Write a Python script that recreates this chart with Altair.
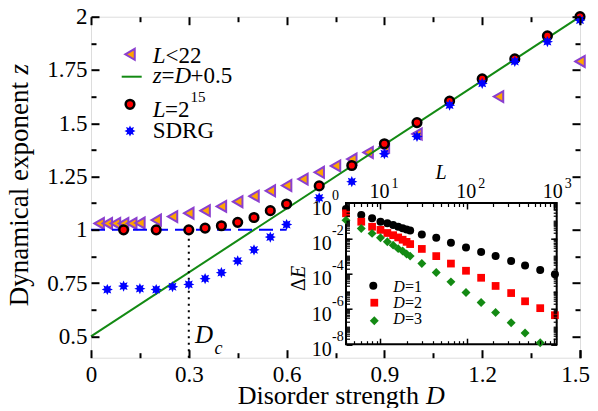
import math
import altair as alt
import pandas as pd

# ---------------- main panel data ----------------
tri_D = [0.025, 0.05, 0.075, 0.1, 0.125, 0.15, 0.2, 0.25, 0.3, 0.35, 0.4, 0.45, 0.5,
         0.55, 0.6, 0.65, 0.7, 0.75, 0.8, 0.85, 0.9, 1.0, 1.25, 1.5]
tri_z = [1.03, 1.03, 1.03, 1.03, 1.03, 1.032, 1.046, 1.062, 1.078, 1.09, 1.11, 1.132, 1.158,
         1.183, 1.208, 1.238, 1.27, 1.3, 1.332, 1.363, 1.39, 1.45, 1.625, 1.79]

circ_D = [0.1, 0.2, 0.3, 0.35, 0.4, 0.45, 0.5, 0.55, 0.6, 0.7, 0.8, 0.9, 1.0, 1.1, 1.2, 1.3, 1.4, 1.5]
circ_z = [1.0, 1.0, 1.0, 1.008, 1.019, 1.035, 1.058, 1.09, 1.121, 1.206, 1.302, 1.404, 1.503,
          1.604, 1.708, 1.802, 1.91, 2.0]

star_D = [0.05, 0.1, 0.15, 0.2, 0.25, 0.3, 0.35, 0.4, 0.45, 0.5, 0.55, 0.6, 0.7, 0.8, 0.9,
          1.0, 1.1, 1.2, 1.3, 1.4, 1.5]
star_z = [0.72, 0.736, 0.724, 0.72, 0.733, 0.744, 0.771, 0.799, 0.854, 0.906, 0.966, 1.025,
          1.15, 1.226, 1.357, 1.438, 1.585, 1.687, 1.79, 1.883, 1.984]

line_D = [0.0, 1.5]          # z = D + 0.5
line_z = [0.5, 2.0]
dash_D = [0.0, 0.6]          # z = 1 reference
dash_z = [1.0]
Dc_val = [0.3]
Dc_z = [0.4, 1.0]

x_dom = [0.0, 1.5]
y_dom = [0.4, 2.0]
x_major = [0, 0.3, 0.6, 0.9, 1.2, 1.5]
x_last = [1.5]
x_minor = [0.15, 0.45, 0.75, 1.05, 1.35]
y_major = [0.5, 0.75, 1, 1.25, 1.5, 1.75, 2]
y_minor = [0.625, 0.875, 1.125, 1.375, 1.625, 1.875]

# ---------------- inset data ----------------
L_vals = [4, 6, 8, 10, 12, 14, 16, 18, 20, 22, 30, 44, 65, 97, 145, 213, 322, 466, 697, 1030]
E_D1 = [4.6e-1, 2.1e-1, 1.35e-1, 8.7e-2, 7.1e-2, 5.6e-2, 4.5e-2, 3.7e-2, 3.2e-2, 2.75e-2,
        1.66e-2, 1.07e-2, 5.6e-3, 3.0e-3, 1.7e-3, 9.8e-4, 5.2e-4, 2.9e-4, 1.6e-4, 9.3e-5]
E_D2 = [2.6e-1, 8.7e-2, 4.5e-2, 3.0e-2, 2.0e-2, 1.5e-2, 1.12e-2, 8.3e-3, 6.3e-3, 4.7e-3,
        2.5e-3, 9.8e-4, 3.7e-4, 1.45e-4, 5.8e-5, 2.0e-5, 7.9e-6, 2.7e-6, 1.1e-6, 4.4e-7]
E_D3 = [1.07e-1, 3.6e-2, 1.9e-2, 1.07e-2, 6.3e-3, 4.1e-3, 2.6e-3, 1.9e-3, 1.3e-3, 9.8e-4,
        3.7e-4, 1.15e-4, 3.4e-5, 8.5e-6, 2.3e-6, 6.2e-7, 1.66e-7, 4.3e-8, 1.2e-8]

inset_L_dom = [4, 1080]
inset_E_dom = [1e-8, 1]
inset_x_major = [10, 100, 1000]
inset_x_minor = [4, 5, 6, 7, 8, 9, 20, 30, 40, 50, 60, 70, 80, 90,
                 200, 300, 400, 500, 600, 700, 800, 900]
inset_x_exp = ["1", "2", "3"]
inset_y_major = [1, 1e-2, 1e-4, 1e-6, 1e-8]
inset_y_exp = ["0", "-2", "-4", "-6", "-8"]
inset_y_minor = [m * 10.0 ** k for k in range(-8, 0) for m in range(2, 10)] + [1e-1, 1e-3, 1e-5, 1e-7]

# ---------------- layout / style ----------------
SERIF = "'Liberation Serif', 'Times New Roman', Times, serif"
OX, OY = 91, 16.7            # page position of plot origin
W, H = 489, 341
ORANGE = "#ffa500"
PURPLE = "#8b3fcf"
GREEN = "#138a13"
BLUE = "#0000ff"
RED = "#ff0000"

pts = []
for i in range(16):
    a = math.pi / 2 + i * math.pi / 8
    r = 1.0 if i % 2 == 0 else 0.56
    pts.append(f"{r * math.cos(a):.3f},{-r * math.sin(a):.3f}")
STAR = "M" + "L".join(pts) + "Z"

one = pd.DataFrame({"k": [0]})


def T(s, px, py, size=23, italic=False, align="left", angle=0):
    return alt.Chart(one).mark_text(
        text=s, font=SERIF, fontSize=size, fontStyle="italic" if italic else "normal",
        align=align, baseline="alphabetic", angle=angle, color="black"
    ).encode(x=alt.value(px - OX), y=alt.value(py - OY))


def ax(orient, values, t, off=None, labels=False, width=2, **kw):
    return alt.Axis(orient=orient, values=values, tickSize=t,
                    offset=(-t if off is None else off), domain=False, grid=False,
                    title=None, labels=labels, tickColor="black", tickWidth=width,
                    zindex=1, **kw)


lab_kw = dict(labelFont=SERIF, labelFontSize=23, labelColor="black", labelFlush=False,
              labelOverlap=False, labelBound=False)

xs = alt.Scale(domain=x_dom, nice=False, zero=False)
ys = alt.Scale(domain=y_dom, nice=False, zero=False)

df_tri = pd.DataFrame({"D": tri_D, "z": tri_z})
df_circ = pd.DataFrame({"D": circ_D, "z": circ_z})
df_star = pd.DataFrame({"D": star_D, "z": star_z})
df_line = pd.DataFrame({"D": line_D, "z": line_z})
df_dash = pd.DataFrame({"D0": [dash_D[0]], "D1": [dash_D[1]], "z": dash_z})
df_dot = pd.DataFrame({"D": Dc_val, "z0": [Dc_z[0]], "z1": [Dc_z[1]]})

tri = alt.Chart(df_tri).mark_point(
    shape="triangle-left", filled=True, fill=ORANGE, stroke=PURPLE, strokeWidth=2,
    size=120, opacity=1
).encode(
    x=alt.X("D:Q", scale=xs, axis=ax("bottom", x_major, 8, labels=True, labelPadding=6,
                                      labelExpr="datum.value == 1.5 ? '' : datum.value + ''",
                                      **lab_kw)),
    y=alt.Y("z:Q", scale=ys, axis=ax("left", y_major, 8, labels=True, labelPadding=4,
                                      labelExpr="datum.value + ''", **lab_kw)),
)
line = alt.Chart(df_line).mark_line(color=GREEN, strokeWidth=2).encode(
    x=alt.X("D:Q", scale=xs, axis=ax("bottom", x_minor, 5)),
    y=alt.Y("z:Q", scale=ys, axis=ax("left", y_minor, 5)),
)
dash = alt.Chart(df_dash).mark_rule(color=BLUE, strokeWidth=2, strokeDash=[14, 7]).encode(
    x=alt.X("D0:Q", scale=xs, axis=ax("top", x_major, 8)),
    x2="D1:Q",
    y=alt.Y("z:Q", scale=ys, axis=ax("right", y_major, 8)),
)
dot = alt.Chart(df_dot).mark_rule(color="black", strokeWidth=2, strokeDash=[2, 4.5]).encode(
    x=alt.X("D:Q", scale=xs, axis=ax("top", x_minor, 5)),
    y=alt.Y("z0:Q", scale=ys, axis=ax("right", y_minor, 5)),
    y2="z1:Q",
)
circ = alt.Chart(df_circ).mark_point(
    shape="circle", filled=True, fill=RED, stroke="black", strokeWidth=2.5, size=75, opacity=1
).encode(
    x=alt.X("D:Q", scale=xs, axis=ax("bottom", x_last, 8, labels=True, labelPadding=6,
                                      labelOffset=-5, labelExpr="datum.value + ''", **lab_kw)),
    y=alt.Y("z:Q", scale=ys, axis=None))
star = alt.Chart(df_star).mark_point(
    shape=STAR, filled=True, color=BLUE, size=125, opacity=1
).encode(x=alt.X("D:Q", scale=xs, axis=None), y=alt.Y("z:Q", scale=ys, axis=None))

# legend of the main panel
leg_tri = alt.Chart(one).mark_point(shape="triangle-left", filled=True, fill=ORANGE, stroke=PURPLE,
                                    strokeWidth=2, size=120, opacity=1).encode(
    x=alt.value(130 - OX), y=alt.value(54.3 - OY))
leg_line = alt.Chart(one).mark_rule(color=GREEN, strokeWidth=2).encode(
    x=alt.value(121.7 - OX), x2=alt.value(141.7 - OX), y=alt.value(76.7 - OY))
leg_circ = alt.Chart(one).mark_point(shape="circle", filled=True, fill=RED, stroke="black",
                                     strokeWidth=2.5, size=75, opacity=1).encode(
    x=alt.value(130 - OX), y=alt.value(104.3 - OY))
leg_star = alt.Chart(one).mark_point(shape=STAR, filled=True, color=BLUE, size=125, opacity=1).encode(
    x=alt.value(130 - OX), y=alt.value(131 - OY))

main_texts = [
    T("L", 152.7, 63.3, italic=True), T("<22", 165.5, 63.3),
    T("z", 152.7, 83.3, italic=True), T("=", 161.5, 83.3), T("D", 174.5, 83.3, italic=True),
    T("+0.5", 190.5, 83.3),
    T("L", 152.7, 116.7, italic=True), T("=2", 165, 116.7), T("15", 190.5, 101.7, size=15),
    T("SDRG", 152.7, 138.3),
    T("D", 195, 342.7, size=25, italic=True), T("c", 214.5, 354, size=18, italic=True),
    T("Dynamical exponent", 27.5, 82, size=27, align="right", angle=270),
    T("z", 27.5, 74.5, size=27, italic=True, align="left", angle=270),
    T("Disorder strength", 419, 403.5, size=26, align="right"),
    T("D", 426, 403.5, size=26, italic=True),
]

main = alt.layer(tri, line, dash, dot, circ, star, leg_tri, leg_line, leg_circ, leg_star,
                 *main_texts).resolve_axis(x="independent", y="independent")

# ---------------- inset ----------------
IL, IR, IT, IB = 346 - OX, 556.7 - OX, 203 - OY, 344.2 - OY
ixs = alt.Scale(type="log", domain=inset_L_dom, range=[IL, IR], nice=False)
iys = alt.Scale(type="log", domain=inset_E_dom, range=[IB, IT], nice=False)

df_frame = pd.DataFrame({"L0": [inset_L_dom[0]], "L1": [inset_L_dom[1]],
                         "E0": [inset_E_dom[0]], "E1": [inset_E_dom[1]]})
df1 = pd.DataFrame({"L": L_vals, "E": E_D1})
df2 = pd.DataFrame({"L": L_vals, "E": E_D2})
df3 = pd.DataFrame({"L": L_vals[:len(E_D3)], "E": E_D3})
df_xl = pd.DataFrame({"L": inset_x_major, "b": ["10"] * 3, "e": inset_x_exp})
df_yl = pd.DataFrame({"E": inset_y_major, "b": ["10"] * 5, "e": inset_y_exp})

frame = alt.Chart(df_frame).mark_rect(fill="white", stroke="black", strokeWidth=2).encode(
    x=alt.X("L0:Q", scale=ixs, axis=ax("top", inset_x_major, 6, off=-(IT + 6), width=1.5)),
    x2="L1:Q",
    y=alt.Y("E0:Q", scale=iys, axis=ax("left", inset_y_major, 6, off=-(IL + 6), width=1.5)),
    y2="E1:Q",
)
p1 = alt.Chart(df1).mark_point(shape="circle", filled=True, color="black", size=64, opacity=1).encode(
    x=alt.X("L:Q", scale=ixs, axis=ax("top", inset_x_minor, 3.5, off=-(IT + 3.5), width=1.2)),
    y=alt.Y("E:Q", scale=iys, axis=ax("left", inset_y_minor, 3.5, off=-(IL + 3.5), width=1.2)),
)
p2 = alt.Chart(df2).mark_point(shape="square", filled=True, color=RED, size=60, opacity=1).encode(
    x=alt.X("L:Q", scale=ixs, axis=ax("bottom", inset_x_major, 6, off=IB - 6 - H, width=1.5)),
    y=alt.Y("E:Q", scale=iys, axis=ax("right", inset_y_major, 6, off=IR - 6 - W, width=1.5)),
)
p3 = alt.Chart(df3).mark_point(shape="diamond", filled=True, color=GREEN, size=80, opacity=1).encode(
    x=alt.X("L:Q", scale=ixs, axis=ax("bottom", inset_x_minor, 3.5, off=IB - 3.5 - H, width=1.2)),
    y=alt.Y("E:Q", scale=iys, axis=ax("right", inset_y_minor, 3.5, off=IR - 3.5 - W, width=1.2)),
)

xl_base = alt.Chart(df_xl).mark_text(font=SERIF, fontSize=20, align="center", baseline="alphabetic",
                                     dx=-1, color="black").encode(
    x=alt.X("L:Q", scale=ixs, axis=None), y=alt.value(198.3 - OY), text="b:N")
xl_exp = alt.Chart(df_xl).mark_text(font=SERIF, fontSize=14, align="left", baseline="alphabetic",
                                    dx=11, color="black").encode(
    x=alt.X("L:Q", scale=ixs, axis=None), y=alt.value(188 - OY), text="e:N")
yl_base = alt.Chart(df_yl).mark_text(font=SERIF, fontSize=20, align="right", baseline="alphabetic",
                                     dy=11.7, color="black").encode(
    y=alt.Y("E:Q", scale=iys, axis=None), x=alt.value(331.7 - OX), text="b:N")
yl_exp = alt.Chart(df_yl).mark_text(font=SERIF, fontSize=14, align="left", baseline="alphabetic",
                                    dy=-3.3, color="black").encode(
    y=alt.Y("E:Q", scale=iys, axis=None), x=alt.value(332 - OX), text="e:N")

ileg = [
    alt.Chart(one).mark_point(shape="circle", filled=True, color="black", size=64, opacity=1).encode(
        x=alt.value(373.3 - OX), y=alt.value(285.7 - OY)),
    alt.Chart(one).mark_point(shape="square", filled=True, color=RED, size=60, opacity=1).encode(
        x=alt.value(374.3 - OX), y=alt.value(302.7 - OY)),
    alt.Chart(one).mark_point(shape="diamond", filled=True, color=GREEN, size=80, opacity=1).encode(
        x=alt.value(374.3 - OX), y=alt.value(320.7 - OY)),
    T("D", 393.3, 292.3, size=16, italic=True), T("=1", 405, 292.3, size=16),
    T("D", 393.3, 308.3, size=16, italic=True), T("=2", 405, 308.3, size=16),
    T("D", 393.3, 324.3, size=16, italic=True), T("=3", 405, 324.3, size=16),
    T("L", 441, 179, size=20, italic=True, align="center"),
    T("Δ", 305, 278, size=20, align="right", angle=270),
    T("E", 305, 278, size=20, italic=True, align="left", angle=270),
]

inset = alt.layer(frame, p1, p2, p3, xl_base, xl_exp, yl_base, yl_exp,
                  *ileg).resolve_axis(x="independent", y="independent")

chart = alt.layer(main, inset).resolve_scale(x="independent", y="independent").properties(
    width=W, height=H,
    autosize=alt.AutoSizeParams(type="none"),
    padding={"left": OX - 8, "top": OY - 8, "right": 590 - (OX + W), "bottom": 400 - (OY - 8) - H},
).configure_view(stroke="black", strokeWidth=2).configure(background="white")

chart.save("out.html", embed_options={"renderer": "svg", "actions": False})
